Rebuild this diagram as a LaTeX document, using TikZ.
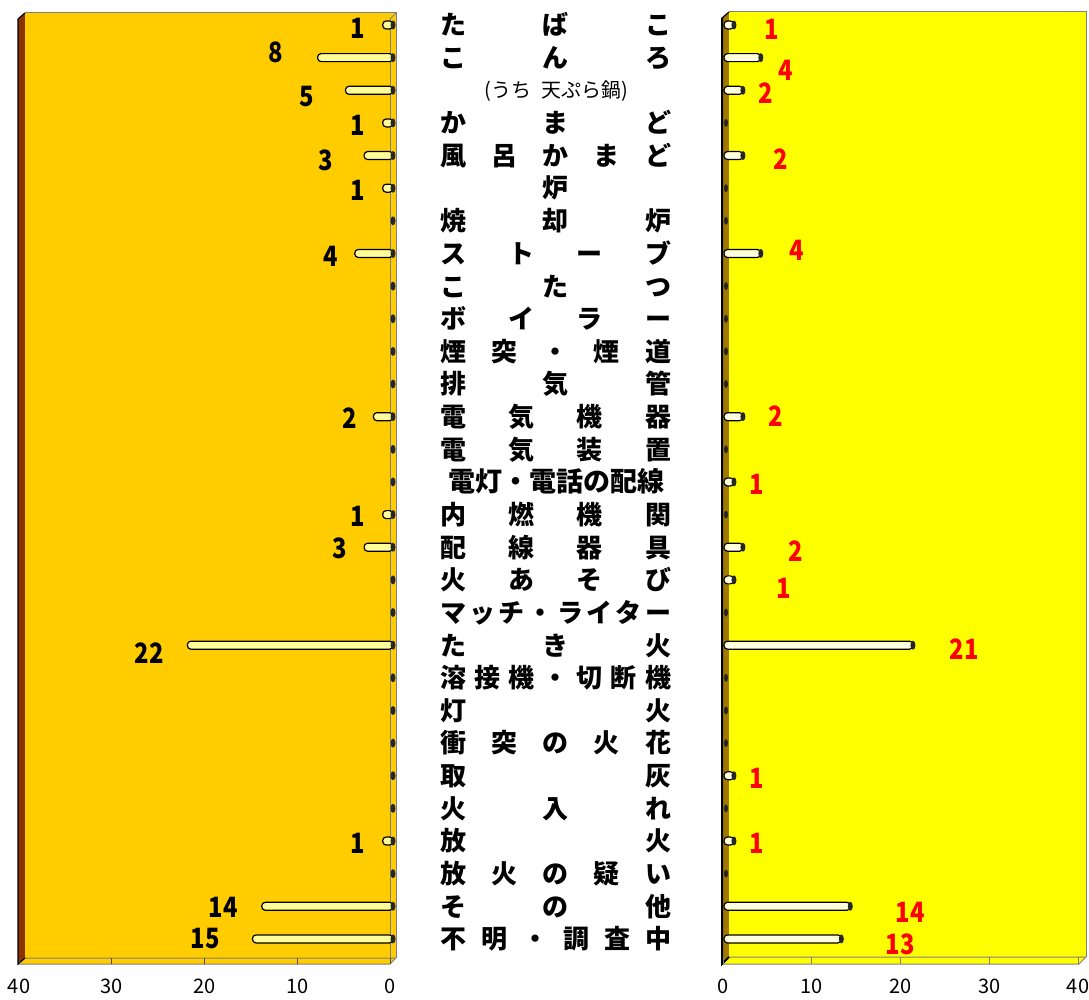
\documentclass[tikz,border=0pt]{standalone}
\usepackage{fontspec}
\newfontfamily\jpfont{Noto Sans CJK JP}
\newfontfamily\numfont{Noto Sans CJK JP}[FakeStretch=0.85]
\definecolor{lback}{RGB}{255,204,0}
\definecolor{lwall}{RGB}{140,50,0}
\definecolor{rback}{RGB}{255,255,0}
\definecolor{rwall}{RGB}{160,120,0}
\definecolor{lbarfill}{RGB}{255,255,153}
\definecolor{rbarfill}{RGB}{255,255,221}
\tikzset{
  jp/.style={font=\jpfont\bfseries\fontsize{26}{26}\selectfont,
    inner sep=0pt, text height=21.6pt, text depth=1.8pt},
  jpsmall/.style={font=\jpfont\fontsize{20}{20}\selectfont,
    inner sep=0pt, text height=16.6pt, text depth=1.4pt},
  lnum/.style={font=\numfont\bfseries\fontsize{28}{28}\selectfont,
    inner sep=0pt, text height=20.5pt, text depth=0pt},
  rnum/.style={lnum, text=red},
  ticklab/.style={font=\jpfont\fontsize{20}{20}\selectfont,
    inner sep=0pt, text height=14.7pt, text depth=0pt},
  lbar/.style={draw=black, line width=1.2pt, fill=lbarfill, rounded corners=3.5pt},
  rbar/.style={draw=black, line width=1.2pt, fill=rbarfill, rounded corners=3.5pt},
  barcap/.style={fill=black!85},
  frame/.style={draw=gray, line width=1pt}
}
% labels spread over the middle column
\newcommand\jrow[3]{%
  \foreach \ch [count=\i] in {#3}
   {
    \pgfmathsetmacro\xx{453+(\i-1)*205/(#2-1)}
    \node[jp] (lab#1-\i) at (\xx,{25+(#1-1)*32.64}) {\ch};
   }
}
\begin{document}
\begin{tikzpicture}[x=1pt,y=-1pt]
  \useasboundingbox (0,0) rectangle (1089,1000);
  % left panel
  \fill[lwall] (18,19) -- (25,13) -- (25,958) -- (18,964) -- cycle;
  \fill[lback] (25,13) rectangle (396,958);
  \draw[frame] (25,13) -- (396,13) -- (396,958);
  \fill[lback] (18,964) -- (25,958) -- (396,958) -- (390,964) -- cycle;
  \draw[frame] (25,958) -- (396,958) -- (390,964) -- (18,964);
  \draw[frame] (390,19) -- (390,964);
  \draw[frame] (390,19) -- (396,13);
  \draw[line width=1.2pt] (18,19) -- (25,13);
  \draw[line width=1.2pt] (18,19) -- (18,964) -- (25,958);
  \foreach \t in {0,10,...,40}
   {
    \draw[black!70, line width=1pt] ({390-\t*9.275},958) -- ({390-\t*9.275},964);
    \node[ticklab] (lt\t) at ({390-\t*9.275},986) {\t};
   }
  % right panel
  \fill[rwall] (722,18) -- (729,12) -- (729,957) -- (722,964) -- cycle;
  \fill[rback] (729,12) rectangle (1086,957);
  \draw[frame] (729,12) -- (1086,12) -- (1086,957);
  \fill[rback] (722,964) -- (729,957) -- (1086,957) -- (1079,964) -- cycle;
  \draw[frame] (729,957) -- (1086,957) -- (1079,964) -- (722,964);
  \draw[line width=1.2pt] (722,18) -- (729,12);
  \draw[line width=2pt] (722,18) -- (722,964) -- (729,957);
  \foreach \t in {0,10,...,40}
   {
    \draw[black!50, line width=1pt] ({723+\t*8.875},957) -- ({723+\t*8.875},964);
    \node[ticklab] (rt\t) at ({723+\t*8.875},986) {\t};
   }
  % bars
  \foreach \v [count=\r] in {1,8,5,1,3,1,0,4,0,0,0,0,2,0,0,1,3,0,0,22,0,0,0,0,0,1,0,14,15}
   {
    \pgfmathsetmacro\yy{25+(\r-1)*32.64}
    \ifnum\v>0 \draw[lbar] ({392-\v*9.3},\yy-4) rectangle (393,\yy+4); \fi
    \fill[barcap] (393,\yy) ellipse (2.5 and 4.5);
   }
  \foreach \v [count=\r] in {1,4,2,0,2,0,0,4,0,0,0,0,2,0,1,0,2,1,0,21,0,0,0,1,0,1,0,14,13}
   {
    \pgfmathsetmacro\yy{25+(\r-1)*32.64}
    \ifnum\v>0
      \draw[rbar] (724,\yy-4) rectangle ({725+\v*8.95},\yy+4);
      \fill[barcap] ({725+\v*8.95},\yy) ellipse (2.5 and 4.5);
    \else
      \fill[barcap] (726,\yy) ellipse (2 and 4);
    \fi
   }
  % values
  \foreach \xx/\yy/\t [count=\k] in {358/28/1, 276/52/8, 307/96/5, 358/125/1,
      326/160/3, 358/190/1, 331/256/4, 350/418/2, 358/516/1, 340/548/3,
      149/653/22, 358/843/1, 223/907/14, 205/938/15}
    \node[lnum] (lv\k) at (\xx,\yy) {\t};
  \foreach \xx/\yy/\t [count=\k] in {772/29/1, 786/70/4, 766/93/2, 781/159/2,
      797/250/4, 776/416/2, 757/484/1, 796/551/2, 784/588/1, 964/649/21,
      757/778/1, 757/843/1, 910/912/14, 900/944/13}
    \node[rnum] (rv\k) at (\xx,\yy) {\t};
  % middle column
  \jrow{1}{3}{た,ば,こ}
  \jrow{2}{3}{こ,ん,ろ}
  \node[jpsmall] (lab3) at (556,90) {(うち\enspace 天ぷら鍋)};
  \jrow{4}{3}{か,ま,ど}
  \jrow{5}{5}{風,呂,か,ま,ど}
  \node[jp] (lab6) at (555,188) {炉};
  \jrow{7}{3}{焼,却,炉}
  \jrow{8}{4}{ス,ト,ー,ブ}
  \jrow{9}{3}{こ,た,つ}
  \jrow{10}{4}{ボ,イ,ラ,ー}
  \jrow{11}{5}{煙,突,・,煙,道}
  \jrow{12}{3}{排,気,管}
  \jrow{13}{4}{電,気,機,器}
  \jrow{14}{4}{電,気,装,置}
  \node[jp, font=\jpfont\bfseries\fontsize{27}{27}\selectfont] (lab15) at (556,482) {電灯・電話の配線};
  \jrow{16}{4}{内,燃,機,関}
  \jrow{17}{4}{配,線,器,具}
  \jrow{18}{4}{火,あ,そ,び}
  \jrow{19}{8}{マ,ッ,チ,・,ラ,イ,タ,ー}
  \jrow{20}{3}{た,き,火}
  \jrow{21}{7}{溶,接,機,・,切,断,機}
  \jrow{22}{2}{灯,火}
  \jrow{23}{5}{衝,突,の,火,花}
  \jrow{24}{2}{取,灰}
  \jrow{25}{3}{火,入,れ}
  \jrow{26}{2}{放,火}
  \jrow{27}{5}{放,火,の,疑,い}
  \jrow{28}{3}{そ,の,他}
  \jrow{29}{6}{不,明,・,調,査,中}
\end{tikzpicture}
\end{document}
